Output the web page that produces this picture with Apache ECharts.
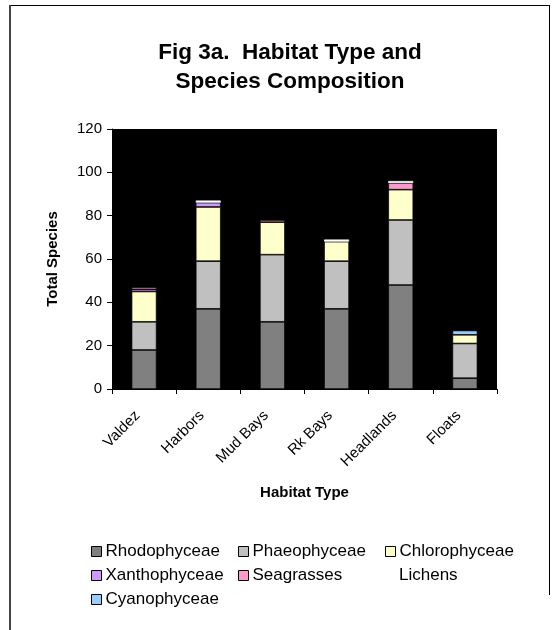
<!DOCTYPE html>
<html>
<head>
<meta charset="utf-8">
<script src="https://cdn.jsdelivr.net/npm/echarts@6/dist/echarts.min.js"></script>
<style>
  html, body { margin: 0; padding: 0; background: #fff; }
  #wrap { position: relative; width: 556px; height: 630px; overflow: hidden; }
  #chart { position: absolute; left: 0; top: 0; width: 556px; height: 630px; }
  .frame-top { position: absolute; left: 9px; top: 5px; width: 541px; height: 1px; background: #000; }
  .frame-left { position: absolute; left: 9px; top: 5px; width: 2px; height: 625px; background: #444; }
  .frame-right { position: absolute; left: 549px; top: 5px; width: 1px; height: 590px; background: #000; }
</style>
</head>
<body>
<div id="wrap">
  <div id="chart"></div>
  <div class="frame-top"></div>
  <div class="frame-left"></div>
  <div class="frame-right"></div>
</div>
<script>
// Habitat categories along the x axis
const habitats = ['Valdez', 'Harbors', 'Mud Bays', 'Rk Bays', 'Headlands', 'Floats'];

// Species counts per algal group, one value per habitat
const rhodophyceae  = [18, 37, 31, 37, 48, 5];
const phaeophyceae  = [13, 22, 31, 22, 30, 16];
const chlorophyceae = [14, 25, 15, 9, 14, 4];
const xanthophyceae = [1, 2, 0, 0, 0, 0];
const seagrasses    = [1, 0, 1, 0, 3, 0];
const lichens       = [0, 1, 0, 1, 1, 0];
const cyanophyceae  = [0, 0, 0, 0, 0, 2];

// Y axis range
const yMin = 0, yMax = 120, yStep = 20;

const groups = [
  { name: 'Rhodophyceae',  data: rhodophyceae,  color: '#808080', edge: '#000' },
  { name: 'Phaeophyceae',  data: phaeophyceae,  color: '#C0C0C0', edge: '#000' },
  { name: 'Chlorophyceae', data: chlorophyceae, color: '#FFFFCC', edge: '#000' },
  { name: 'Xanthophyceae', data: xanthophyceae, color: '#CC99FF', edge: '#000' },
  { name: 'Seagrasses',    data: seagrasses,    color: '#FF99CC', edge: '#000' },
  { name: 'Lichens',       data: lichens,       color: '#FFFFFF', edge: '#FFFFFF' },
  { name: 'Cyanophyceae',  data: cyanophyceae,  color: '#99CCFF', edge: '#000' }
];

const FONT = 'Liberation Sans, Arial, sans-serif';

const series = groups.map(g => ({
  name: g.name,
  type: 'bar',
  stack: 'total',
  barWidth: 25,
  data: g.data.map(v => (v === 0 ? '-' : v)),
  itemStyle: { color: g.color, borderColor: g.edge, borderWidth: 0.7 },
  emphasis: { disabled: true }
}));

// Legend laid out in three columns, as individual entries
const legendSlots = [
  { name: 'Rhodophyceae',  left: 91,  row: 0 },
  { name: 'Phaeophyceae',  left: 238, row: 0 },
  { name: 'Chlorophyceae', left: 385, row: 0 },
  { name: 'Xanthophyceae', left: 91,  row: 1 },
  { name: 'Seagrasses',    left: 238, row: 1 },
  { name: 'Lichens',       left: 385, row: 1 },
  { name: 'Cyanophyceae',  left: 91,  row: 2 }
];
const legends = legendSlots.map(s => ({
  left: s.left,
  top: 543 + s.row * 24,
  padding: 0,
  icon: 'rect',
  itemWidth: 10,
  itemHeight: 10,
  itemGap: 0,
  selectedMode: false,
  textStyle: { fontFamily: FONT, fontSize: 17, color: '#000', padding: [0, 0, 0, -1] },
  data: [s.name === 'Lichens'
    ? { name: s.name, itemStyle: { borderColor: '#fff', borderWidth: 0 } }
    : { name: s.name, itemStyle: { borderColor: '#000', borderWidth: 1 } }]
}));

const chart = echarts.init(document.getElementById('chart'), null, { renderer: 'canvas' });
chart.setOption({
  backgroundColor: '#fff',
  animation: false,
  title: {
    text: 'Fig 3a.  Habitat Type and\nSpecies Composition',
    left: 285,
    top: 33,
    textAlign: 'center',
    textStyle: { fontFamily: FONT, fontSize: 22.5, fontWeight: 'bold', color: '#000', lineHeight: 29.5 }
  },
  legend: legends,
  grid: {
    left: 112, right: 59, top: 129, bottom: 241,
    show: true, backgroundColor: '#000', borderWidth: 0
  },
  xAxis: {
    type: 'category',
    data: habitats,
    name: 'Habitat Type',
    nameLocation: 'middle',
    nameGap: 96,
    nameTextStyle: { fontFamily: FONT, fontSize: 15, fontWeight: 'bold', color: '#000' },
    axisLine: { lineStyle: { color: '#000', width: 1 } },
    axisTick: { show: true, length: 5, lineStyle: { color: '#000' }, alignWithLabel: false },
    axisLabel: { rotate: 45, margin: 18, padding: [0, 9, 0, 0], fontFamily: FONT, fontSize: 15, color: '#000' }
  },
  yAxis: {
    type: 'value',
    min: yMin, max: yMax, interval: yStep,
    name: 'Total Species',
    nameLocation: 'middle',
    nameGap: 52,
    nameTextStyle: { fontFamily: FONT, fontSize: 15, fontWeight: 'bold', color: '#000' },
    axisLine: { show: true, lineStyle: { color: '#000', width: 1 } },
    axisTick: { show: true, length: 5, lineStyle: { color: '#000' } },
    axisLabel: { margin: 10, fontFamily: FONT, fontSize: 15, color: '#000' },
    splitLine: { show: false }
  },
  series: series
});
</script>
</body>
</html>
